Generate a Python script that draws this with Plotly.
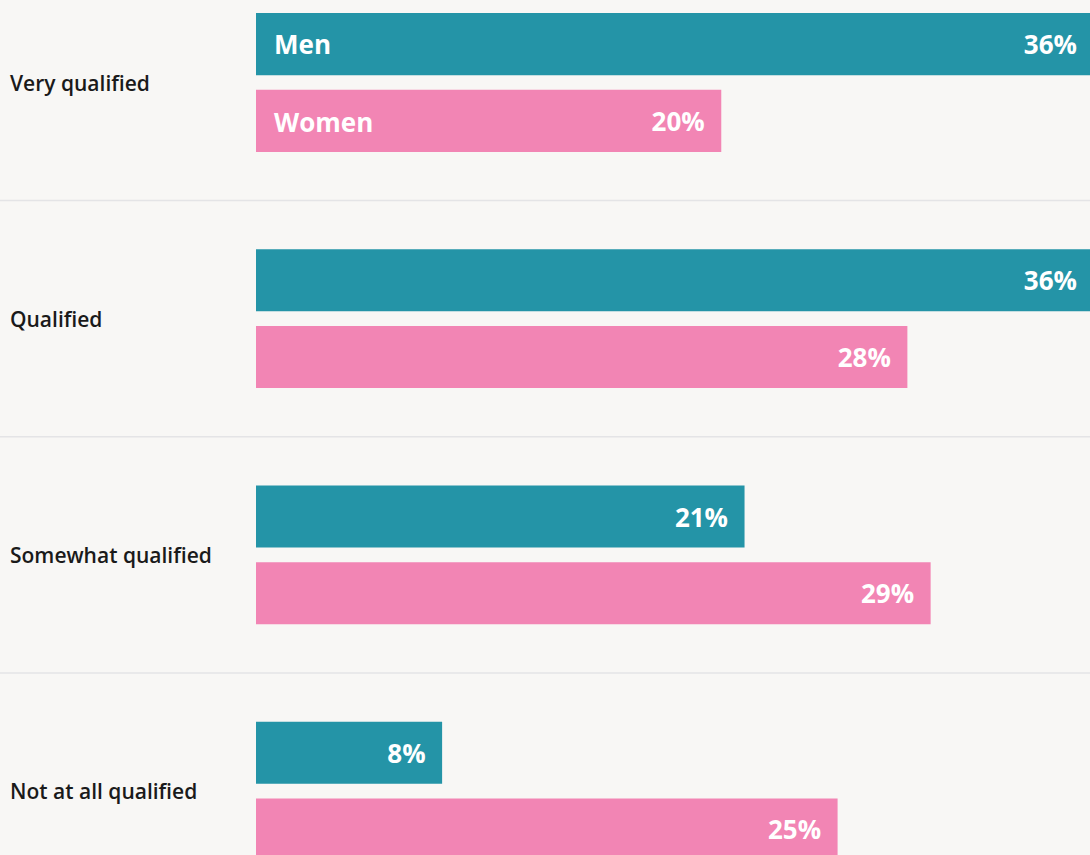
import plotly.graph_objects as go

categories = ["Very qualified", "Qualified", "Somewhat qualified", "Not at all qualified"]
men = [36, 36, 21, 8]
women = [20, 28, 29, 25]

MEN_C = "#2494A7"
WOMEN_C = "#F285B4"
BG = "#F8F7F5"
FONT = "Open Sans"

W, H = 1090, 855
L = 256

NB = "\u00a0\u00a0"


def labels(vals):
    return [f"{v}%{NB}" for v in vals]


fig = go.Figure()
for name, vals, col in [("Men", men, MEN_C), ("Women", women, WOMEN_C)]:
    fig.add_trace(go.Bar(
        y=categories, x=vals, name=name, orientation="h",
        marker=dict(color=col, line=dict(width=0)),
        text=labels(vals), textposition="inside", insidetextanchor="end",
        textfont=dict(family=FONT, size=26, color="white", weight=700),
        constraintext="none",
        hoverinfo="skip",
    ))

# group separators, full canvas width
for k in range(len(categories) - 1):
    fig.add_shape(type="line", xref="paper", yref="y",
                  x0=-L / (W - L), x1=1, y0=k + 0.5, y1=k + 0.5,
                  line=dict(color="#E4E4E6", width=1.5), layer="below")

# category labels at the left edge
for c in categories:
    fig.add_annotation(x=0, xref="paper", xshift=-(L - 8), y=c, yref="y",
                       text=c, showarrow=False, xanchor="left",
                       font=dict(family=FONT, size=21, color="#1a1a1a", weight=600))

# series names inside the first pair of bars
for name, shift in [("Men", 39), ("Women", -39)]:
    fig.add_annotation(x=0, xref="x", xshift=16, y=categories[0], yref="y",
                       yshift=shift, text=name, showarrow=False, xanchor="left",
                       font=dict(family=FONT, size=26, color="white", weight=700))

pitch = 236.2
c0 = 82.5
fig.update_layout(
    width=W, height=H,
    margin=dict(l=L, r=0, t=0, b=0, pad=0),
    paper_bgcolor=BG, plot_bgcolor=BG,
    barmode="group", bargap=0.35, bargroupgap=0.192,
    showlegend=False,
    xaxis=dict(range=[0, 35.85], visible=False, fixedrange=True),
    yaxis=dict(type="category", categoryorder="array", categoryarray=categories,
               range=[(H - c0) / pitch, -c0 / pitch], autorange=False,
               showticklabels=False, showgrid=False, zeroline=False,
               showline=False, ticks="", fixedrange=True),
)

fig.write_html("out.html", config={"displayModeBar": False},
               post_script="document.body.style.margin='0';"
                           "document.body.style.background='%s';" % BG)
